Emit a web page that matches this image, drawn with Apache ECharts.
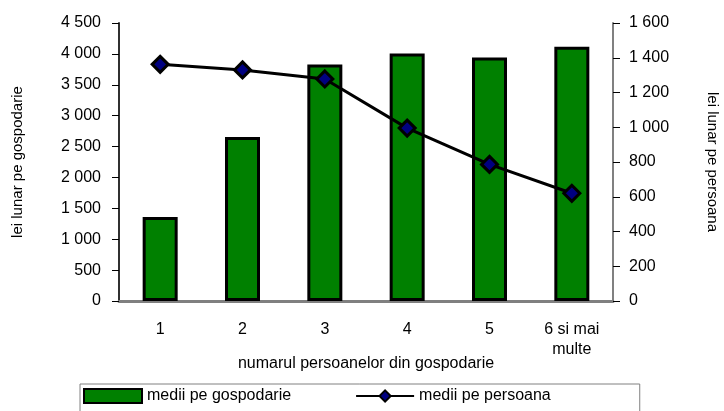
<!DOCTYPE html>
<html>
<head>
<meta charset="utf-8">
<script src="https://cdn.jsdelivr.net/npm/echarts@6/dist/echarts.min.js"></script>
<style>
    html, body { margin: 0; padding: 0; background: #fff; }
    #chart { width: 724px; height: 411px; }
</style>
</head>
<body>
<div id="chart"></div>
<script>
var categories = ['1', '2', '3', '4', '5', '6 si mai\nmulte'];
var mediiGospodarie = [1360, 2655, 3830, 4005, 3940, 4115];
var mediiPersoana = [1362, 1330, 1278, 995, 786, 620];

var font = 'Liberation Sans, Arial, sans-serif';

function thousands(v) {
    return v >= 1000 ? String(v).replace(/(\d)(\d{3})$/, '$1 $2') : String(v);
}

var chart = echarts.init(document.getElementById('chart'));
chart.setOption({
    animation: false,
    textStyle: {
        fontFamily: font
    },
    legend: {
        left: 80,
        top: 384,
        padding: [4, 89, 10, 3],
        itemGap: 64,
        itemWidth: 58,
        itemHeight: 14,
        borderColor: '#808080',
        borderWidth: 1,
        textStyle: {
            fontSize: 16,
            color: '#000',
            fontFamily: font
        },
        data: [
            { name: 'medii pe gospodarie', icon: 'rect' },
            { name: 'medii pe persoana' }
        ]
    },
    grid: {
        left: 119,
        right: 111,
        top: 23,
        bottom: 110,
        outerBoundsMode: 'none'
    },
    xAxis: [
        {
            type: 'category',
            data: categories,
            name: 'numarul persoanelor din gospodarie',
            nameLocation: 'middle',
            nameGap: 55,
            nameMoveOverlap: false,
            nameTextStyle: {
                fontSize: 16,
                color: '#000'
            },
            axisLine: {
                lineStyle: {
                    color: '#202020',
                    width: 2
                }
            },
            axisTick: {
                length: 6,
                lineStyle: {
                    color: '#000'
                }
            },
            axisLabel: {
                color: '#000',
                fontSize: 16,
                margin: 19,
                lineHeight: 20,
                interval: 0
            }
        },
        {
            type: 'category',
            data: categories,
            position: 'top',
            axisLine: {
                lineStyle: {
                    color: '#808080',
                    width: 3
                }
            },
            axisTick: { show: false },
            axisLabel: { show: false }
        }
    ],
    yAxis: [
        {
            type: 'value',
            min: 0,
            max: 4500,
            interval: 500,
            name: 'lei lunar pe gospodarie',
            nameLocation: 'middle',
            nameGap: 94,
            nameMoveOverlap: false,
            nameTextStyle: {
                fontSize: 15,
                color: '#000'
            },
            axisLine: {
                show: true,
                lineStyle: {
                    color: '#303030',
                    width: 2
                }
            },
            axisTick: {
                show: true,
                length: 7,
                lineStyle: {
                    color: '#000'
                }
            },
            axisLabel: {
                color: '#000',
                fontSize: 16,
                margin: 18,
                formatter: thousands
            },
            splitLine: { show: false }
        },
        {
            type: 'value',
            min: 0,
            max: 1600,
            interval: 200,
            position: 'right',
            name: 'lei lunar pe persoana',
            nameLocation: 'middle',
            nameRotate: -90,
            nameGap: 92,
            nameMoveOverlap: false,
            nameTextStyle: {
                fontSize: 15,
                color: '#000'
            },
            axisLine: {
                show: true,
                lineStyle: {
                    color: '#808080',
                    width: 2
                }
            },
            axisTick: {
                show: true,
                length: 7,
                lineStyle: {
                    color: '#000'
                }
            },
            axisLabel: {
                color: '#000',
                fontSize: 16,
                margin: 16,
                formatter: thousands
            },
            splitLine: { show: false }
        }
    ],
    series: [
        {
            name: 'medii pe gospodarie',
            type: 'bar',
            barWidth: 35,
            data: mediiGospodarie,
            itemStyle: {
                color: '#008000',
                borderColor: '#000',
                borderWidth: 3
            }
        },
        {
            name: 'medii pe persoana',
            type: 'line',
            yAxisIndex: 1,
            data: mediiPersoana,
            symbol: 'diamond',
            symbolSize: 16,
            z: 5,
            lineStyle: {
                color: '#000',
                width: 3
            },
            itemStyle: {
                color: '#000080',
                borderColor: '#000',
                borderWidth: 3
            }
        }
    ]
});
</script>
</body>
</html>
